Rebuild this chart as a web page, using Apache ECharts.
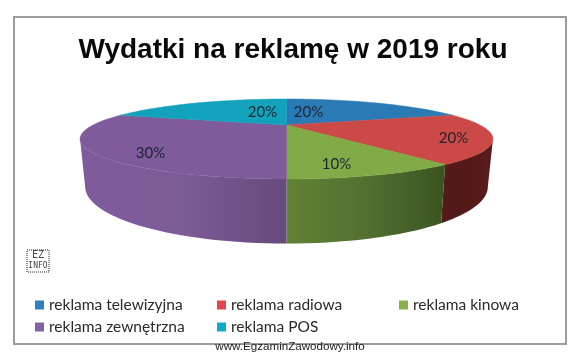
<!DOCTYPE html>
<html>
<head>
<meta charset="utf-8">
<style>html,body{margin:0;padding:0;background:#fff}#chart{width:581px;height:356px}</style>
<script src="https://cdn.jsdelivr.net/npm/echarts@6/dist/echarts.min.js"></script>
</head>
<body>
<div id="chart"></div>
<script>
const CATEGORIES = ['reklama telewizyjna', 'reklama radiowa', 'reklama kinowa', 'reklama zewnętrzna', 'reklama POS'];
const SHARES = [20, 20, 10, 30, 20];
const TOP_COLORS = ['#2a7ab6', '#cb4a47', '#80ab47', '#7f5b9b', '#12a2bc'];
const LEGEND_COLORS = ['#2f7fc1', '#e0454f', '#85b24d', '#8560a8', '#10aacb'];
// side wall colours, left to right
const WALL_COLORS = [null, ['#541919', '#541919', '#5a1c1c'], ['#618334', '#527030', '#3a5420'], ['#7f5b9b', '#7d5a98', '#664a7a'], null];

// tilted disc, the far side is squeezed the way the 3D pie in the picture is
const CX = 286.5, CY = 125, RX = 193.4, RY = 35.1, PERSPECTIVE = 0.35;
const DEPTH = 42, BOTTOM_SCALE = 0.975;
const VISIBLE_WALL = [110.5, 249.5];

// label offsets from the disc centre
const LABEL_OFFSETS = [[22, -13], [167, 13], [50, 39], [-136, 28], [-24, -13]];
const LEGEND_POS = [[35, 297], [217, 297], [399, 297], [35, 319], [217, 319]];

const total = SHARES.reduce((a, b) => a + b, 0);

function rim(deg, bottom) {
  const t = deg * Math.PI / 180;
  const d = 1 + PERSPECTIVE * Math.cos(t);
  const x = RX * Math.sin(t) / d;
  const y = -RY * Math.cos(t) / d;
  if (!bottom) return [CX + x, CY + y];
  return [CX + x * BOTTOM_SCALE, CY + y + DEPTH / d];
}

function arc(from, to, bottom) {
  const pts = [];
  const n = Math.max(2, Math.ceil(Math.abs(to - from) / 2));
  for (let i = 0; i <= n; i++) pts.push(rim(from + (to - from) * i / n, bottom));
  return pts;
}

function makeRenderItem(index) {
  return function (params, api) {
    const before = SHARES.slice(0, index).reduce((a, b) => a + b, 0);
    const start = before / total * 360;
    const end = start + api.value(0) / total * 360;
    const children = [];
    const wall = WALL_COLORS[index];
    const from = Math.max(start, VISIBLE_WALL[0]);
    const to = Math.min(end, VISIBLE_WALL[1]);
    if (wall && to > from) {
      const fill = new echarts.graphic.LinearGradient(0, 0, 1, 0, wall.map((color, i) => ({
        offset: i / (wall.length - 1),
        color: color
      })));
      children.push({
        type: 'polygon',
        shape: { points: arc(from, to, false).concat(arc(to, from, true)) },
        style: { fill: fill }
      });
    }
    children.push({
      type: 'polygon',
      shape: { points: [[CX, CY]].concat(arc(start, end, false)) },
      style: { fill: TOP_COLORS[index], stroke: TOP_COLORS[index], lineWidth: 0.5 }
    });
    children.push({
      type: 'text',
      style: {
        text: api.value(0) + '%',
        x: CX + LABEL_OFFSETS[index][0],
        y: CY + LABEL_OFFSETS[index][1],
        align: 'center',
        verticalAlign: 'middle',
        fill: '#1c2530',
        font: '15px Lato'
      }
    });
    return { type: 'group', children: children };
  };
}

const chart = echarts.init(document.getElementById('chart'));
chart.setOption({
  animation: false,
  backgroundColor: '#fff',
  title: {
    text: 'Wydatki na reklamę w 2019 roku',
    left: 288,
    textAlign: 'center',
    top: 31,
    textStyle: { fontFamily: 'Liberation Sans', fontWeight: 'bold', fontSize: 28, color: '#0a0a0a' }
  },
  legend: CATEGORIES.map((name, i) => ({
    data: [name],
    left: LEGEND_POS[i][0],
    top: LEGEND_POS[i][1],
    padding: 0,
    icon: 'rect',
    itemWidth: 9,
    itemHeight: 9,
    itemGap: 0,
    selectedMode: false,
    itemStyle: { color: LEGEND_COLORS[i] },
    textStyle: { fontFamily: 'Lato', fontSize: 15.5, color: '#2a2a2a', padding: [0, 0, 0, 0] }
  })),
  graphic: [
    { type: 'rect', shape: { x: 14, y: 17, width: 552, height: 327 }, style: { fill: 'none', stroke: '#9c9c9c', lineWidth: 2 } },
    { type: 'rect', shape: { x: 27, y: 250, width: 22, height: 22 }, style: { fill: 'none', stroke: '#222', lineWidth: 1, lineDash: [1, 1] } },
    { type: 'text', x: 38, y: 255, style: { text: 'EZ', align: 'center', verticalAlign: 'middle', font: '10px "DejaVu Sans Mono"', fill: '#444' } },
    { type: 'text', x: 38, y: 266, style: { text: 'INFO', align: 'center', verticalAlign: 'middle', font: '8px "DejaVu Sans Mono"', fill: '#444' } },
    { type: 'text', x: 290, y: 347, style: { text: 'www.EgzaminZawodowy.info', align: 'center', verticalAlign: 'middle', font: '11.6px "Liberation Sans"', fill: '#222' } }
  ],
  series: CATEGORIES.map((name, i) => ({
    type: 'custom',
    name: name,
    coordinateSystem: 'none',
    silent: true,
    itemStyle: { color: LEGEND_COLORS[i] },
    renderItem: makeRenderItem(i),
    data: [SHARES[i]]
  }))
});
</script>
</body>
</html>
